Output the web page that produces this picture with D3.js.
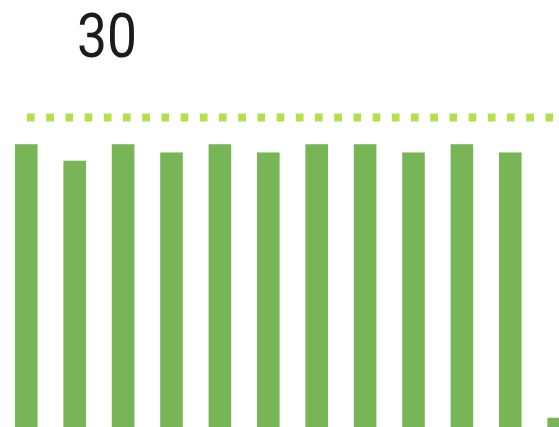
<!DOCTYPE html>
<html>
<head>
<meta charset="utf-8">
<script src="https://cdn.jsdelivr.net/npm/d3@7"></script>
<style>
  html, body { margin: 0; padding: 0; background: #fff; overflow: hidden; }
</style>
</head>
<body>
<div id="chart"></div>
<script>
// days shown in the crop
var days = ["1", "2", "3", "4", "5", "6", "7", "8", "9", "10", "11", "12"];
// daily values
var values = [27.4, 25.8, 27.4, 26.6, 27.4, 26.6, 27.4, 27.4, 26.6, 27.4, 26.6, 0.8];
// target line and its label
var target = 30;
var targetLabel = "30";

var width = 559, height = 427;

var svg = d3.select("#chart").append("svg")
    .attr("width", width)
    .attr("height", height);

var x = d3.scaleBand()
    .domain(days)
    .range([15, 570])
    .paddingInner(0.533)
    .paddingOuter(0);

var y = d3.scaleLinear()
    .domain([0, target])
    .range([426, 117.5]);

//bars
svg.selectAll("rect.bar")
    .data(values)
    .enter().append("rect")
    .attr("class", "bar")
    .attr("x", function(d, i) { return x(days[i]); })
    .attr("width", x.bandwidth())
    .attr("y", function(d) { return y(d); })
    .attr("height", function(d) { return y(0) - y(d) + 2; })
    .attr("fill", "#78b557");

//dotted target line
svg.append("line")
    .attr("x1", 27)
    .attr("x2", width)
    .attr("y1", y(target))
    .attr("y2", y(target))
    .attr("stroke", "#b3e04c")
    .attr("stroke-width", 8)
    .attr("stroke-dasharray", "7.7 11.5");

//big label
svg.append("text")
    .attr("x", 77)
    .attr("y", 57)
    .attr("font-family", "Roboto, sans-serif")
    .attr("font-size", 62)
    .attr("textLength", 60)
    .attr("lengthAdjust", "spacingAndGlyphs")
    .attr("fill", "#1b1b1b")
    .text(targetLabel);
</script>
</body>
</html>
